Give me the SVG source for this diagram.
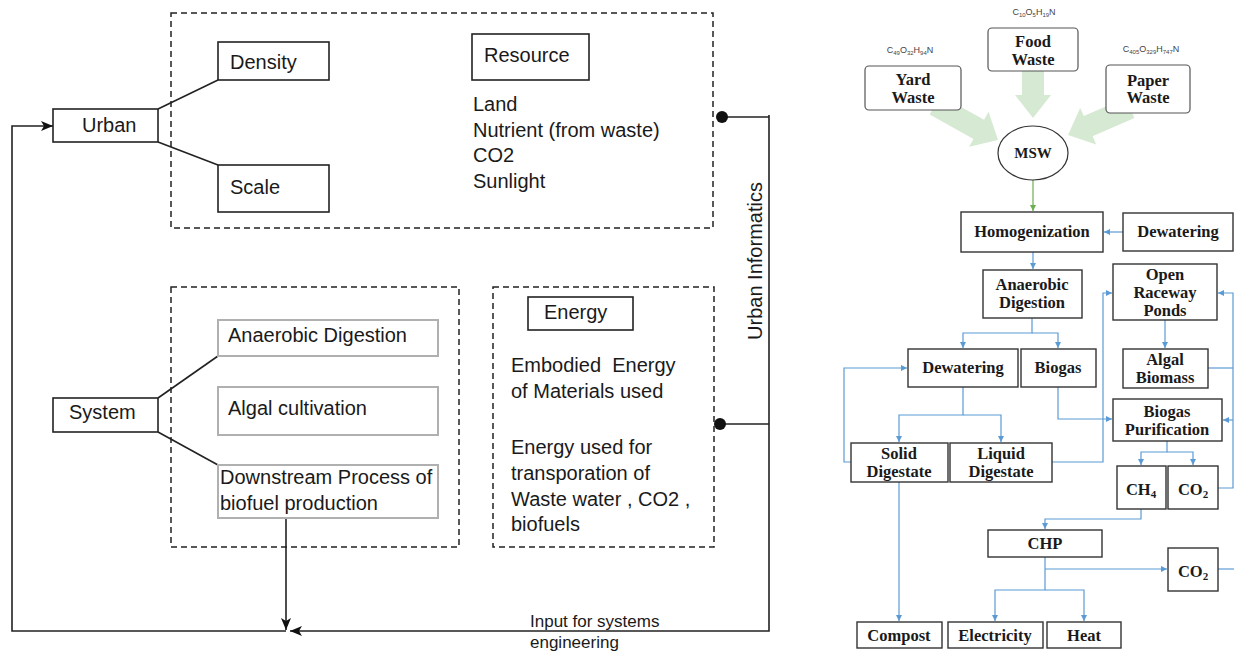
<svg xmlns="http://www.w3.org/2000/svg" width="1234" height="652" viewBox="0 0 1234 652">
<style>
.l{font-family:"Liberation Sans",Arial,sans-serif;font-size:20px;fill:#1a1a1a}
.dash{fill:none;stroke:#222;stroke-width:1.5;stroke-dasharray:6 4}
.bx{fill:#fff;stroke:#222;stroke-width:1.6}
.gb{fill:#fff;stroke:#b0b0b0;stroke-width:2}
.ln{fill:none;stroke:#222;stroke-width:1.6}
.r{font-family:"Liberation Serif","Times New Roman",serif;font-size:16.5px;font-weight:bold;fill:#1a1a1a;text-anchor:middle}
.rb{fill:#fff;stroke:#333;stroke-width:1.4}
.bl{fill:none;stroke:#5b9bd5;stroke-width:1.2}
.f{font-family:"Liberation Sans",Arial,sans-serif;font-size:9px;fill:#444;text-anchor:middle}
.ga{fill:#d6e9d2}
</style>
<defs>
<marker id="ak" viewBox="0 0 12 10" markerWidth="12" markerHeight="10" refX="12" refY="5" orient="auto" markerUnits="userSpaceOnUse">
<path d="M0,0 L12,5 L0,10 L3,5 z" fill="#111"/>
</marker>
<marker id="ab" viewBox="0 0 6 6" markerWidth="6" markerHeight="6" refX="6" refY="3" orient="auto" markerUnits="userSpaceOnUse">
<path d="M0,0 L6,3 L0,6 z" fill="#5b9bd5"/>
</marker>
<marker id="ag" viewBox="0 0 6 6" markerWidth="6" markerHeight="6" refX="6" refY="3" orient="auto" markerUnits="userSpaceOnUse">
<path d="M0,0 L6,3 L0,6 z" fill="#6aaf50"/>
</marker>
</defs>

<!-- LEFT: containers -->
<g id="urban-container"><rect class="dash" x="171" y="13" width="542" height="215"/></g>
<g id="system-container"><rect class="dash" x="171" y="287" width="288" height="260"/></g>
<g id="energy-container"><rect class="dash" x="493" y="287" width="221" height="260"/></g>

<!-- LEFT connectors -->
<g id="left-connectors">
<line class="ln" x1="158" y1="109" x2="218" y2="80"/>
<line class="ln" x1="158" y1="142" x2="218" y2="165"/>
<line class="ln" x1="158" y1="398" x2="218" y2="356"/>
<line class="ln" x1="158" y1="432" x2="218" y2="465"/>
<polyline class="ln" points="286,631 12,631 12,126 53,126" marker-end="url(#ak)"/>
<line class="ln" x1="286" y1="518" x2="286" y2="630" marker-end="url(#ak)"/>
<polyline class="ln" points="769,115 769,631 290,631" marker-end="url(#ak)"/>
<line class="ln" x1="722" y1="117" x2="769" y2="117"/>
<line class="ln" x1="720" y1="424" x2="769" y2="424"/>
<circle cx="722" cy="117" r="6" fill="#111"/>
<circle cx="720" cy="424" r="6" fill="#111"/>
</g>

<g id="urban"><rect class="bx" x="53" y="109" width="105" height="33"/><text class="l" x="82" y="132">Urban</text></g>
<g id="density"><rect class="bx" x="218" y="42" width="111" height="38"/><text class="l" x="230" y="69">Density</text></g>
<g id="scale"><rect class="bx" x="218" y="165" width="111" height="47"/><text class="l" x="230" y="194">Scale</text></g>
<g id="resource"><rect class="bx" x="472" y="34" width="117" height="46"/><text class="l" x="484" y="62">Resource</text></g>
<g id="resource-list"><text class="l" x="473"><tspan x="473" y="111">Land</tspan><tspan x="473" y="137">Nutrient (from waste)</tspan><tspan x="473" y="162">CO2</tspan><tspan x="473" y="188">Sunlight</tspan></text></g>

<g id="system"><rect class="bx" x="53" y="398" width="105" height="34"/><text class="l" x="69" y="419">System</text></g>
<g id="anaerobic"><rect class="gb" x="218" y="320" width="220" height="36"/><text class="l" x="228" y="342">Anaerobic Digestion</text></g>
<g id="algal"><rect class="gb" x="218" y="387" width="220" height="48"/><text class="l" x="228" y="415">Algal cultivation</text></g>
<g id="downstream"><rect class="gb" x="218" y="465" width="220" height="53"/><text class="l"><tspan x="220" y="484">Downstream Process of</tspan><tspan x="220" y="510">biofuel production</tspan></text></g>

<g id="energy"><rect class="bx" x="528" y="297" width="105" height="33"/><text class="l" x="544" y="319">Energy</text></g>
<g id="energy-list"><text class="l" style="white-space:pre"><tspan x="511" y="372">Embodied  Energy</tspan><tspan x="511" y="398">of Materials used</tspan><tspan x="511" y="454">Energy used for</tspan><tspan x="511" y="480">transporation of</tspan><tspan x="511" y="506">Waste water , CO2 ,</tspan><tspan x="511" y="531">biofuels</tspan></text></g>

<g id="urban-informatics"><text class="l" transform="translate(762,261) rotate(-90)" text-anchor="middle">Urban Informatics</text></g>
<g id="input-label"><text class="l" style="font-size:17px"><tspan x="530" y="627">Input for systems</tspan><tspan x="530" y="648">engineering</tspan></text></g>

<!-- RIGHT: green arrows -->
<g id="green-arrows">
<polygon class="ga" points="1022,65 1044,65 1044,95 1051,95 1033,118 1015,95 1022,95"/>
<polygon class="ga" points="940.3,95.4 984.1,119.7 988.5,111.8 998,140 969.1,146.8 973.5,138.9 929.7,114.6"/>
<polygon class="ga" points="1125.6,97.9 1083.8,116.1 1080.2,107.9 1068,135 1096.2,144.5 1092.6,136.3 1134.4,118.1"/>
</g>

<!-- RIGHT connectors -->
<g id="flow-connectors">
<line x1="1033" y1="180" x2="1033" y2="211" stroke="#6aaf50" stroke-width="1.2" marker-end="url(#ag)"/>
<path class="bl" d="M1123,232 H1104" marker-end="url(#ab)"/>
<path class="bl" d="M1033,252 V269" marker-end="url(#ab)"/>
<path class="bl" d="M1032,318 V333 H963 V348" marker-end="url(#ab)"/>
<path class="bl" d="M1032,333 H1058 V348" marker-end="url(#ab)"/>
<path class="bl" d="M963,387 V415 H899 V442" marker-end="url(#ab)"/>
<path class="bl" d="M963,415 H1001 V442" marker-end="url(#ab)"/>
<path class="bl" d="M1058,387 V419 H1112" marker-end="url(#ab)"/>
<path class="bl" d="M851,462 H844 V368 H907" marker-end="url(#ab)"/>
<path class="bl" d="M1052,462 H1103 V293 H1112" marker-end="url(#ab)"/>
<path class="bl" d="M1165,320 V348" marker-end="url(#ab)"/>
<path class="bl" d="M1208,368 H1233"/>
<path class="bl" d="M1218,488 H1233 V293 H1218" marker-end="url(#ab)"/>
<path class="bl" d="M1233,420 H1223" marker-end="url(#ab)"/>
<path class="bl" d="M1167,441 V452 H1141 V465" marker-end="url(#ab)"/>
<path class="bl" d="M1167,452 H1193 V465" marker-end="url(#ab)"/>
<path class="bl" d="M1141,509 V519 H1045 V529" marker-end="url(#ab)"/>
<path class="bl" d="M1045,557 V590 H995 V621" marker-end="url(#ab)"/>
<path class="bl" d="M1045,590 H1084 V621" marker-end="url(#ab)"/>
<path class="bl" d="M1045,569 H1167" marker-end="url(#ab)"/>
<path class="bl" d="M1218,569 H1234"/>
<path class="bl" d="M899,482 V621" marker-end="url(#ab)"/>
</g>

<!-- RIGHT nodes -->
<g id="formula-food"><text class="f" x="1034" y="15">C<tspan font-size="6" dy="1.5">10</tspan><tspan dy="-1.5">O</tspan><tspan font-size="6" dy="1.5">5</tspan><tspan dy="-1.5">H</tspan><tspan font-size="6" dy="1.5">19</tspan><tspan dy="-1.5">N</tspan></text></g>
<g id="formula-yard"><text class="f" x="910" y="53">C<tspan font-size="6" dy="1.5">49</tspan><tspan dy="-1.5">O</tspan><tspan font-size="6" dy="1.5">32</tspan><tspan dy="-1.5">H</tspan><tspan font-size="6" dy="1.5">94</tspan><tspan dy="-1.5">N</tspan></text></g>
<g id="formula-paper"><text class="f" x="1151" y="52">C<tspan font-size="6" dy="1.5">405</tspan><tspan dy="-1.5">O</tspan><tspan font-size="6" dy="1.5">329</tspan><tspan dy="-1.5">H</tspan><tspan font-size="6" dy="1.5">747</tspan><tspan dy="-1.5">N</tspan></text></g>

<g id="food-waste"><rect x="988" y="28" width="90" height="43" rx="4" fill="#fff" stroke="#555" stroke-width="1.2"/><text class="r"><tspan x="1033" y="47">Food</tspan><tspan x="1033" y="65">Waste</tspan></text></g>
<g id="yard-waste"><rect x="865" y="66" width="96" height="44" rx="4" fill="#fff" stroke="#555" stroke-width="1.2"/><text class="r"><tspan x="913" y="85">Yard</tspan><tspan x="913" y="103">Waste</tspan></text></g>
<g id="paper-waste"><rect x="1106" y="65" width="84" height="48" rx="4" fill="#fff" stroke="#555" stroke-width="1.2"/><text class="r"><tspan x="1148" y="86">Paper</tspan><tspan x="1148" y="103">Waste</tspan></text></g>
<g id="msw"><ellipse cx="1033" cy="153" rx="35" ry="27" fill="#fff" stroke="#333" stroke-width="1.2"/><text class="r" x="1033" y="158" style="font-size:15px">MSW</text></g>

<g id="homogenization"><rect class="rb" x="961" y="212" width="142" height="40"/><text class="r" x="1032" y="237">Homogenization</text></g>
<g id="dewatering-top"><rect class="rb" x="1123" y="213" width="110" height="38"/><text class="r" x="1178" y="237">Dewatering</text></g>
<g id="anaerobic-digestion"><rect class="rb" x="983" y="270" width="99" height="48"/><text class="r"><tspan x="1032" y="290">Anaerobic</tspan><tspan x="1032" y="308">Digestion</tspan></text></g>
<g id="open-raceway"><rect class="rb" x="1113" y="264" width="104" height="56"/><text class="r"><tspan x="1165" y="280">Open</tspan><tspan x="1165" y="298">Raceway</tspan><tspan x="1165" y="316">Ponds</tspan></text></g>
<g id="algal-biomass"><rect class="rb" x="1123" y="349" width="85" height="39"/><text class="r"><tspan x="1165" y="365">Algal</tspan><tspan x="1165" y="383">Biomass</tspan></text></g>
<g id="dewatering-mid"><rect class="rb" x="908" y="349" width="110" height="38"/><text class="r" x="963" y="373">Dewatering</text></g>
<g id="biogas"><rect class="rb" x="1021" y="349" width="75" height="38"/><text class="r" x="1058" y="373">Biogas</text></g>
<g id="biogas-purification"><rect class="rb" x="1113" y="399" width="109" height="42"/><text class="r"><tspan x="1167" y="417">Biogas</tspan><tspan x="1167" y="435">Purification</tspan></text></g>
<g id="solid-digestate"><rect class="rb" x="851" y="443" width="97" height="39"/><text class="r"><tspan x="899" y="459">Solid</tspan><tspan x="899" y="477">Digestate</tspan></text></g>
<g id="liquid-digestate"><rect class="rb" x="950" y="443" width="102" height="39"/><text class="r"><tspan x="1001" y="459">Liquid</tspan><tspan x="1001" y="477">Digestate</tspan></text></g>
<g id="ch4"><rect class="rb" x="1117" y="466" width="49" height="43"/><text class="r" x="1141" y="495">CH<tspan font-size="11" dy="3">4</tspan></text></g>
<g id="co2-top"><rect class="rb" x="1168" y="466" width="50" height="43"/><text class="r" x="1193" y="495">CO<tspan font-size="11" dy="3">2</tspan></text></g>
<g id="chp"><rect class="rb" x="988" y="530" width="114" height="27"/><text class="r" x="1045" y="549">CHP</text></g>
<g id="co2-bottom"><rect class="rb" x="1168" y="548" width="50" height="43"/><text class="r" x="1193" y="577">CO<tspan font-size="11" dy="3">2</tspan></text></g>
<g id="compost"><rect class="rb" x="857" y="622" width="85" height="26"/><text class="r" x="899" y="641">Compost</text></g>
<g id="electricity"><rect class="rb" x="948" y="622" width="95" height="26"/><text class="r" x="995" y="641">Electricity</text></g>
<g id="heat"><rect class="rb" x="1047" y="622" width="74" height="26"/><text class="r" x="1084" y="641">Heat</text></g>
</svg>
